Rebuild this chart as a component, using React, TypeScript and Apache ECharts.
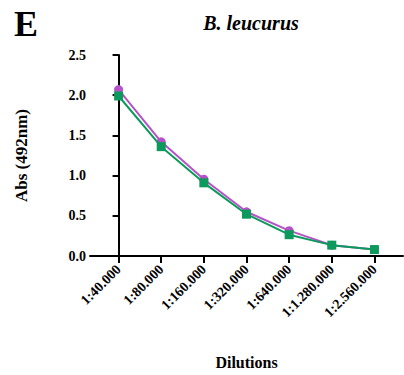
import React, { useEffect, useRef } from "react";
import * as echarts from "echarts";

const categories = ["1:40.000", "1:80.000", "1:160.000", "1:320.000", "1:640.000", "1:1.280.000", "1:2.560.000"];
const seriesPurple = [2.07, 1.42, 0.955, 0.55, 0.315, 0.135, 0.08];
const seriesGreen = [1.99, 1.36, 0.91, 0.52, 0.265, 0.135, 0.08];
const yTicks = [0, 0.5, 1.0, 1.5, 2.0, 2.5];

const serif = "Liberation Serif";

export default function App() {
  const ref = useRef<HTMLDivElement>(null);
  useEffect(() => {
    if (!ref.current) return;
    const chart = echarts.init(ref.current, undefined, { renderer: "svg" });
    const idx = categories.map((_, i) => i);
    chart.setOption({
      animation: false,
      backgroundColor: "#ffffff",
      textStyle: { fontFamily: serif },
      title: [
        {
          text: "B. leucurus",
          left: 246,
          textAlign: "center",
          top: 8,
          textStyle: { fontFamily: serif, fontWeight: "bold", fontStyle: "italic", fontSize: 20, color: "#000" },
        },
        {
          text: "E",
          left: 9,
          top: 1,
          textStyle: { fontFamily: serif, fontWeight: "bold", fontSize: 36, color: "#000" },
        },
      ],
      grid: { left: 90, right: 1, top: 55, bottom: 114, containLabel: false },
      xAxis: {
        type: "value",
        min: -0.67,
        max: 6.67,
        name: "Dilutions",
        nameLocation: "middle",
        nameGap: 98,
        nameTextStyle: { fontFamily: serif, fontWeight: "bold", fontSize: 16, color: "#000" },
        splitLine: { show: false },
        axisLine: { show: true, onZero: false, lineStyle: { color: "#000", width: 2 } },
        axisTick: { show: true, customValues: idx, length: 7, lineStyle: { color: "#000", width: 2 } },
        axisLabel: {
          customValues: idx,
          rotate: 45,
          margin: 11,
          fontFamily: serif,
          fontWeight: "bold",
          fontSize: 14,
          color: "#000",
          formatter: (v: number) => categories[Math.round(v)] ?? "",
        },
      },
      yAxis: {
        type: "value",
        min: 0,
        max: 2.5,
        interval: 0.5,
        name: "Abs (492nm)",
        nameLocation: "middle",
        nameGap: 60,
        nameTextStyle: { fontFamily: serif, fontWeight: "bold", fontSize: 17, color: "#000" },
        splitLine: { show: false },
        axisLine: { show: true, lineStyle: { color: "#000", width: 2 } },
        axisTick: { show: true, length: 6, lineStyle: { color: "#000", width: 2 } },
        axisLabel: {
          margin: 4,
          fontFamily: serif,
          fontWeight: "bold",
          fontSize: 14,
          color: "#000",
          formatter: (v: number) => (yTicks.includes(v) ? v.toFixed(1) : ""),
        },
      },
      series: [
        {
          type: "line",
          data: seriesPurple.map((v, i) => [i, v]),
          symbol: "circle",
          symbolSize: 9,
          lineStyle: { color: "#B452C8", width: 2 },
          itemStyle: { color: "#B452C8" },
          z: 2,
        },
        {
          type: "line",
          data: seriesGreen.map((v, i) => [i, v]),
          symbol: "rect",
          symbolSize: 9,
          lineStyle: { color: "#0C9A5C", width: 2 },
          itemStyle: { color: "#0C9A5C" },
          z: 3,
        },
      ],
    });
    return () => chart.dispose();
  }, []);
  return <div ref={ref} style={{ width: 404, height: 375, position: "absolute", left: 0, top: 0 }} />;
}
